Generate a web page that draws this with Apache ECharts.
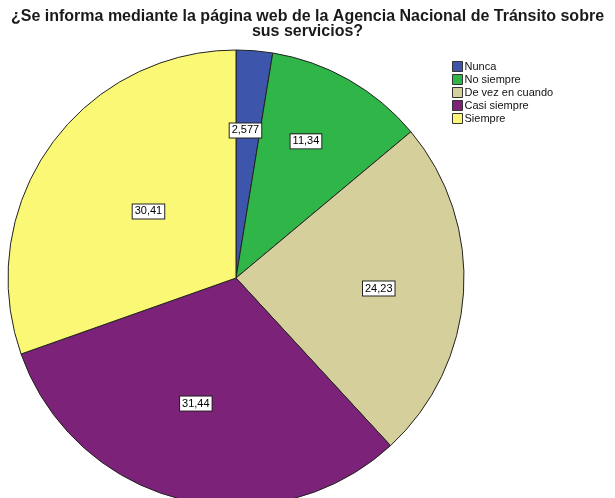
<!DOCTYPE html>
<html>
<head>
<meta charset="utf-8">
<script src="https://cdn.jsdelivr.net/npm/echarts@6/dist/echarts.min.js"></script>
<style>
  html, body { margin: 0; padding: 0; background: #fff; }
  #main { width: 615px; height: 498px; }
</style>
</head>
<body>
<div id="main"></div>
<script>
const categories = ['Nunca', 'No siempre', 'De vez en cuando', 'Casi siempre', 'Siempre'];
const values = [2.577, 11.34, 24.23, 31.44, 30.41];
const labels = ['2,577', '11,34', '24,23', '31,44', '30,41'];
const colors = ['#3d56ab', '#2fb548', '#d5d09b', '#7c2379', '#fbf876'];
// nudge labels out from the mid-radius spot, like the original
const labelOffsets = [[0, -31], [12, -35], [26, 3], [-12, 12], [8, 1]];

var myChart = echarts.init(document.getElementById('main'));

var option = {
    animation: false,
    title: {
        text: '¿Se informa mediante la página web de la Agencia Nacional de Tránsito sobre\nsus servicios?',
        left: 'center',
        top: 4,
        textStyle: {
            fontFamily: 'Liberation Sans',
            fontWeight: 'bold',
            fontSize: 16,
            lineHeight: 15,
            color: '#1a1a1a'
        }
    },
    legend: {
        orient: 'vertical',
        left: 447,
        top: 56,
        itemWidth: 10,
        itemHeight: 10,
        itemGap: 2,
        icon: 'rect',
        data: categories,
        itemStyle: { borderColor: '#333', borderWidth: 1 },
        textStyle: {
            fontFamily: 'Liberation Sans',
            fontSize: 11,
            color: '#111',
            padding: [0, 0, 0, -3]
        }
    },
    series: [
        {
            type: 'pie',
            center: [236, 278],
            radius: 228,
            startAngle: 90,
            clockwise: true,
            avoidLabelOverlap: false,
            silent: true,
            itemStyle: { borderColor: '#222', borderWidth: 1 },
            label: {
                show: true,
                position: 'inside',
                fontFamily: 'Liberation Sans',
                fontSize: 11,
                color: '#000',
                backgroundColor: '#fff',
                borderColor: '#222',
                borderWidth: 1,
                padding: [2, 2, 1, 2]
            },
            labelLine: { show: false },
            data: categories.map(function (name, i) {
                return {
                    name: name,
                    value: values[i],
                    itemStyle: { color: colors[i] },
                    label: { formatter: labels[i], offset: labelOffsets[i] }
                };
            })
        }
    ]
};

myChart.setOption(option);
</script>
</body>
</html>
